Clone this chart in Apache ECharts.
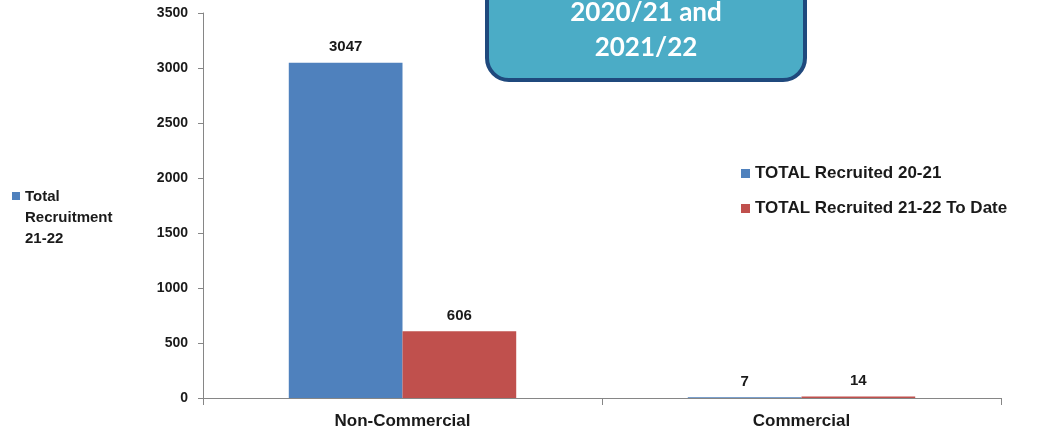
<!DOCTYPE html>
<html lang="en">
<head>
    <meta charset="utf-8">
    <title>Recruitment 2020/21 and 2021/22</title>
    <script src="https://cdn.jsdelivr.net/npm/echarts@6/dist/echarts.min.js"></script>
    <style>
        html, body { margin: 0; padding: 0; background: #fff; }
        #main { width: 1041px; height: 440px; }
    </style>
</head>
<body>
<div id="main"></div>
<script type="text/javascript">
    // chart data
    var categories = ['Non-Commercial', 'Commercial'];
    var recruited2021 = [3047, 7];
    var recruited2122 = [606, 14];
    var seriesNames = ['TOTAL Recruited 20-21', 'TOTAL Recruited 21-22 To Date'];
    var titleLines = ['2020/21 and', '2021/22'];
    var sideLegendText = 'Total\nRecruitment\n21-22';

    var FONT = '"Liberation Sans", Arial, sans-serif';
    var BLUE = '#4F81BD';
    var RED = '#C0504D';

    var myChart = echarts.init(document.getElementById('main'));

    var option = {
        animation: false,
        grid: { left: 203, right: 40, top: 13, bottom: 42 },
        legend: {
            orient: 'vertical',
            left: 741,
            top: 165,
            padding: 0,
            itemWidth: 9,
            itemHeight: 9,
            itemGap: 18,
            icon: 'rect',
            textStyle: { fontFamily: FONT, fontWeight: 'bold', fontSize: 17, color: '#1a1a1a' },
            data: seriesNames
        },
        xAxis: {
            type: 'category',
            data: categories,
            axisLine: { lineStyle: { color: '#868686', width: 1 } },
            axisTick: { show: true, length: 7, lineStyle: { color: '#868686' } },
            axisLabel: { margin: 15, fontFamily: FONT, fontWeight: 'bold', fontSize: 17, color: '#1a1a1a' }
        },
        yAxis: {
            type: 'value',
            min: 0,
            max: 3500,
            interval: 500,
            splitLine: { show: false },
            axisLine: { show: true, lineStyle: { color: '#868686', width: 1 } },
            axisTick: { show: true, length: 5, lineStyle: { color: '#868686' } },
            axisLabel: {
                margin: 15, fontFamily: FONT, fontWeight: 'bold', fontSize: 14, color: '#1a1a1a',
                formatter: function (v) { return String(v); }
            }
        },
        series: [
            {
                name: seriesNames[0],
                type: 'bar',
                data: recruited2021,
                itemStyle: { color: BLUE },
                barGap: 0,
                barCategoryGap: '43%',
                label: { show: true, position: 'top', distance: 8, fontFamily: FONT, fontWeight: 'bold', fontSize: 15, color: '#1a1a1a' }
            },
            {
                name: seriesNames[1],
                type: 'bar',
                data: recruited2122,
                itemStyle: { color: RED },
                barGap: 0,
                barCategoryGap: '43%',
                label: { show: true, position: 'top', distance: 8, fontFamily: FONT, fontWeight: 'bold', fontSize: 15, color: '#1a1a1a' }
            }
        ],
        graphic: [
            {
                type: 'group',
                z: 100,
                children: [
                    {
                        type: 'rect',
                        shape: { x: 487, y: -40, width: 318, height: 120, r: 22 },
                        style: { fill: '#4BACC6', stroke: '#1F497D', lineWidth: 4 }
                    },
                    {
                        type: 'text',
                        x: 646, y: 13,
                        style: { text: titleLines[0], fill: '#fff', font: 'bold 26px Lato, "Open Sans", sans-serif', textAlign: 'center', textVerticalAlign: 'middle' }
                    },
                    {
                        type: 'text',
                        x: 646, y: 48,
                        style: { text: titleLines[1], fill: '#fff', font: 'bold 26px Lato, "Open Sans", sans-serif', textAlign: 'center', textVerticalAlign: 'middle' }
                    }
                ]
            },
            {
                type: 'group',
                children: [
                    {
                        type: 'rect',
                        shape: { x: 12, y: 192, width: 8, height: 8 },
                        style: { fill: BLUE }
                    },
                    {
                        type: 'text',
                        x: 25, y: 186,
                        style: { text: sideLegendText, fill: '#1a1a1a', font: 'bold 15px "Liberation Sans", Arial, sans-serif', lineHeight: 21 }
                    }
                ]
            }
        ]
    };

    myChart.setOption(option);
</script>
</body>
</html>
